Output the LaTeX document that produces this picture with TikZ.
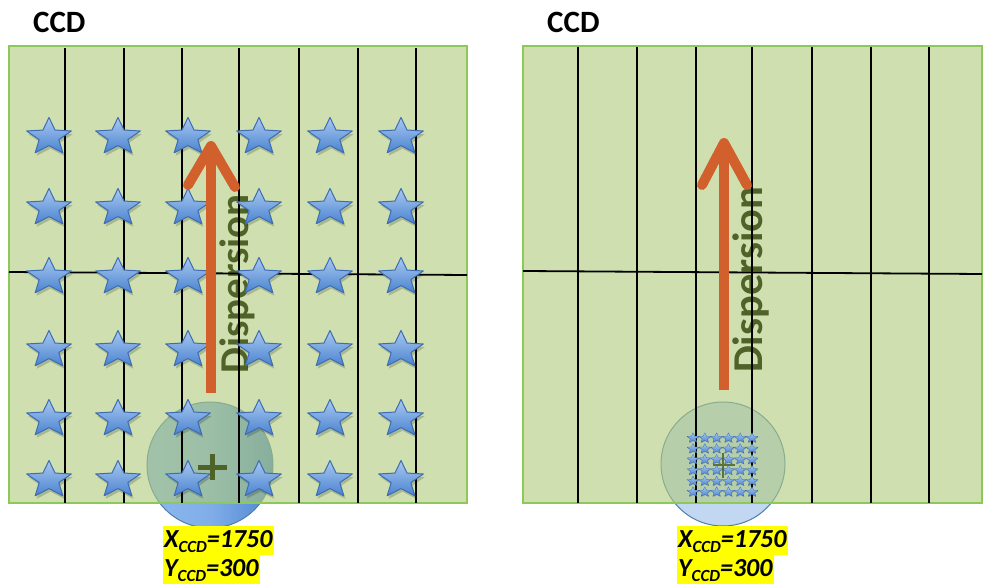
\documentclass[tikz,border=0pt]{standalone}
\usepackage{fontspec}
\setmainfont{Carlito}
\usetikzlibrary{calc}

\definecolor{panelfill}{HTML}{AFCA7B}
\definecolor{panelline}{HTML}{8DC95A}
\definecolor{arroworange}{HTML}{D2602C}
\definecolor{olivetext}{HTML}{4F6228}
\definecolor{starlight}{HTML}{A9C8F0}
\definecolor{stardark}{HTML}{4A83D0}
\definecolor{starline}{HTML}{3D6DB0}
\definecolor{fovdark}{HTML}{4D86D2}
\definecolor{fovlight}{HTML}{8DB8EE}
\definecolor{fovpale}{HTML}{C2D7F2}
\definecolor{fovedge}{HTML}{4E7FA8}
\definecolor{hilite}{HTML}{FFFF00}

% five-pointed star, slightly wider than tall
\newcommand\starshape{(-90:23.5 and 19.5) -- (-54:10.3 and 8.6) -- (-18:23.5 and 19.5)
  -- (18:10.3 and 8.6) -- (54:23.5 and 19.5) -- (90:10.3 and 8.6) -- (126:23.5 and 19.5)
  -- (162:10.3 and 8.6) -- (198:23.5 and 19.5) -- (234:10.3 and 8.6) -- cycle}

\tikzset{
  pics/bluestar/.style={code={
    \path[fill=black, fill opacity=0.18, shift={(1.5,3)}] \starshape;
    \path[top color=starlight, bottom color=stardark, draw=starline,
          line width=#1, line join=round] \starshape;
  }},
  panel/.style={fill=panelfill, fill opacity=0.6, draw=panelline, draw opacity=1,
                line width=2.5pt},
  gridline/.style={black, line width=1.8pt},
  disparrow/.style={arroworange, line width=10pt},
  disptext/.style={text=olivetext, inner sep=0pt, rotate=90, anchor=base west},
  ccdtitle/.style={font=\fontsize{31}{31}\selectfont\bfseries, inner sep=0pt, anchor=base west},
  coordlabel/.style={fill=hilite, anchor=north west, inner xsep=1pt, inner ysep=0pt,
                     text height=21pt, text depth=8pt,
                     font=\fontsize{26}{26}\selectfont\bfseries\itshape},
  plusmark/.style={olivetext, line width=5pt},
}
\newcommand\ccdsub{\raisebox{-0.22em}{\fontsize{17}{17}\selectfont CCD}}

\begin{document}
\begin{tikzpicture}[x=1pt, y=-1pt]
\useasboundingbox (0,0) rectangle (986,585);

% ---------------- left detector ----------------
\node[circle, draw=fovedge, line width=1pt, minimum size=126pt, inner sep=0pt,
      left color=fovlight, right color=fovdark, middle color=fovlight!80!fovdark]
      (fovA) at (210,465) {};
\path[panel] (9,46) rectangle (467,503);
\node[ccdtitle] (ccdA) at (33,33) {CCD};

\node[disptext, font=\fontsize{41}{41}\selectfont\bfseries] (dispA) at (248,374) {Dispersion};

\foreach \x in {65,124,182,239,299,358,416}
  \draw[gridline] (\x,48) -- (\x,503);
\draw[gridline] (9,272) -- (467,275);

\foreach \x in {49,118,188,259,330,401}
  \foreach \y in {137,208,277,350,419,480}
    \pic at (\x,\y) {bluestar=1pt};

\coordinate (tailA) at (211,393);
\coordinate (tipA) at (211,146);
\draw[disparrow] (tailA) -- ($(tipA)+(0,4)$);
\draw[disparrow, line cap=round, line join=round] (188,185) -- (tipA) -- (235,187);

\draw[plusmark] (198,467) -- (227,467) (212,454) -- (212,480);

\node[coordlabel] (xA) at (163,526) {X\ccdsub=1750};
\node[coordlabel] (yA) at (163,555) {Y\ccdsub=300};

% ---------------- right detector ----------------
\node[circle, draw=fovedge, line width=1pt, minimum size=124pt, inner sep=0pt,
      fill=fovpale] (fovB) at (723,464) {};
\path[panel] (523,46) rectangle (982,503);
\node[ccdtitle] (ccdB) at (547,33) {CCD};

\node[disptext, font=\fontsize{42.5}{42.5}\selectfont\bfseries] (dispB) at (762,373) {Dispersion};

\foreach \x in {578,637,696,752,812,871,929}
  \draw[gridline] (\x,47) -- (\x,503);
\draw[gridline] (523,271) -- (982,274);

\foreach \i in {0,...,5}
  \foreach \j in {0,...,5}
    \pic[scale=0.27] at ({693+11.8*\i},{438+10.8*\j}) {bluestar=0.3pt};

\coordinate (tailB) at (724,390);
\coordinate (tipB) at (724,143);
\draw[disparrow] (tailB) -- ($(tipB)+(0,4)$);
\draw[disparrow, line cap=round, line join=round] (702,185) -- (tipB) -- (747,185);

\draw[olivetext, line width=2.5pt, opacity=0.85] (713,465) -- (735,465) (723,453) -- (723,478);

\node[coordlabel] (xB) at (677,526) {X\ccdsub=1750};
\node[coordlabel] (yB) at (677,555) {Y\ccdsub=300};
\end{tikzpicture}
\end{document}
